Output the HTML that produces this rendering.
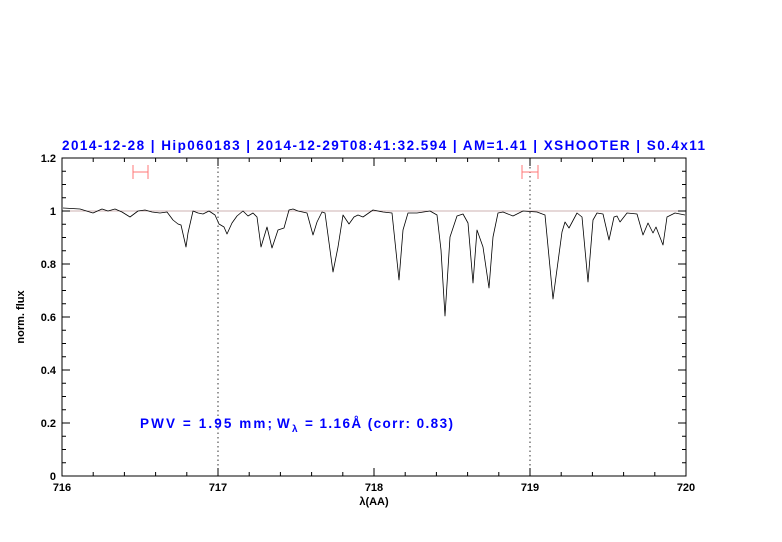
<!DOCTYPE html>
<html><head><style>body{margin:0;background:#fff}svg{display:block}</style></head><body>
<svg width="782" height="542" xmlns="http://www.w3.org/2000/svg" font-family="Liberation Sans, DejaVu Sans, sans-serif">
<rect width="782" height="542" fill="#fff"/>
<text x="62" y="150" fill="#0000ff" font-size="13.5" font-weight="bold" textLength="643" lengthAdjust="spacing">2014-12-28 | Hip060183 | 2014-12-29T08:41:32.594 | AM=1.41 | XSHOOTER | S0.4x11</text>
<line x1="62" y1="211" x2="686" y2="211" stroke="#b99" stroke-width="0.8"/>
<line x1="218" y1="158" x2="218" y2="476" stroke="#000" stroke-width="0.8" stroke-dasharray="1.5,3"/>
<line x1="530" y1="158" x2="530" y2="476" stroke="#000" stroke-width="0.8" stroke-dasharray="1.5,3"/>
<g stroke="#f77" stroke-width="1"><line x1="133" y1="172" x2="148" y2="172"/><line x1="133" y1="165" x2="133" y2="179"/><line x1="148" y1="165" x2="148" y2="179"/>
<line x1="522" y1="172" x2="538" y2="172"/><line x1="522" y1="165" x2="522" y2="179"/><line x1="538" y1="165" x2="538" y2="179"/></g>
<polyline fill="none" stroke="#000" stroke-width="0.8" stroke-linejoin="round" points="63,208 80,209 93,213 102,209 108,211 115,209 122,212 130,217 138,211 145,210 152,212 160,213 167,212 173,220 178,224 181,225 186,247 188,233 193,211 198,213 203,214 209,211 215,215 219,224 224,227 227,234 232,223 237,216 243,211 248,216 253,213 257,217 261,247 267,227 272,248 278,230 284,228 289,210 293,209 298,211 307,213 313,235 317,222 322,212 325,213 333,272 338,247 343,215 349,224 354,217 358,215 363,217 373,210 383,212 392,213 399,280 403,230 408,213 417,213 430,211 437,215 441,250 445,316 450,237 457,216 463,214 468,223 473,283 477,230 483,247 489,288 493,237 498,213 503,212 513,216 523,211 537,212 545,215 553,299 562,232 565,222 569,228 577,213 582,217 588,282 593,220 597,213 603,214 609,240 614,217 617,216 620,222 627,213 637,214 643,235 648,223 653,233 656,227 663,245 667,217 675,213 685,215"/>
<rect x="62" y="158" width="624" height="318" fill="none" stroke="#000" stroke-width="1"/>
<g stroke="#000" stroke-width="1">
<path d="M93.2,476v-4M124.4,476v-4M155.6,476v-4M186.8,476v-4M249.2,476v-4M280.4,476v-4M311.6,476v-4M342.8,476v-4M405.2,476v-4M436.4,476v-4M467.6,476v-4M498.8,476v-4M561.2,476v-4M592.4,476v-4M623.6,476v-4M654.8,476v-4M218,476v-8M374,476v-8M530,476v-8
M93.2,158v4M124.4,158v4M155.6,158v4M186.8,158v4M249.2,158v4M280.4,158v4M311.6,158v4M342.8,158v4M405.2,158v4M436.4,158v4M467.6,158v4M498.8,158v4M561.2,158v4M592.4,158v4M623.6,158v4M654.8,158v4M218,158v8M374,158v8M530,158v8"/>
<path d="M62,423h8M62,370h8M62,317h8M62,264h8M62,211h8M686,423h-8M686,370h-8M686,317h-8M686,264h-8M686,211h-8
M62,462.75h4M62,449.5h4M62,436.25h4M62,409.75h4M62,396.5h4M62,383.25h4M62,356.75h4M62,343.5h4M62,330.25h4M62,303.75h4M62,290.5h4M62,277.25h4M62,250.75h4M62,237.5h4M62,224.25h4M62,197.75h4M62,184.5h4M62,171.25h4
M686,462.75h-4M686,449.5h-4M686,436.25h-4M686,409.75h-4M686,396.5h-4M686,383.25h-4M686,356.75h-4M686,343.5h-4M686,330.25h-4M686,303.75h-4M686,290.5h-4M686,277.25h-4M686,250.75h-4M686,237.5h-4M686,224.25h-4M686,197.75h-4M686,184.5h-4M686,171.25h-4"/>
</g>
<g font-size="11" fill="#000" font-weight="bold">
<g text-anchor="middle"><text x="62" y="491">716</text><text x="218" y="491">717</text><text x="374" y="491">718</text><text x="530" y="491">719</text><text x="686" y="491">720</text>
<text x="374" y="505">λ(AA)</text></g>
<g text-anchor="end"><text x="56" y="480">0</text><text x="56" y="427">0.2</text><text x="56" y="374">0.4</text><text x="56" y="321">0.6</text><text x="56" y="268">0.8</text><text x="56" y="215">1</text><text x="56" y="162">1.2</text></g>
<text transform="translate(24,317) rotate(-90)" text-anchor="middle">norm. flux</text>
</g>
<g fill="#0000ff" font-size="13.5" font-weight="bold">
<text x="140" y="428" textLength="132" lengthAdjust="spacing">PWV = 1.95 mm;</text>
<text x="277" y="428">W</text>
<text x="292" y="432" font-size="10">λ</text>
<text x="305" y="428" textLength="148" lengthAdjust="spacing">= 1.16Å (corr: 0.83)</text>
</g>
</svg>
</body></html>
